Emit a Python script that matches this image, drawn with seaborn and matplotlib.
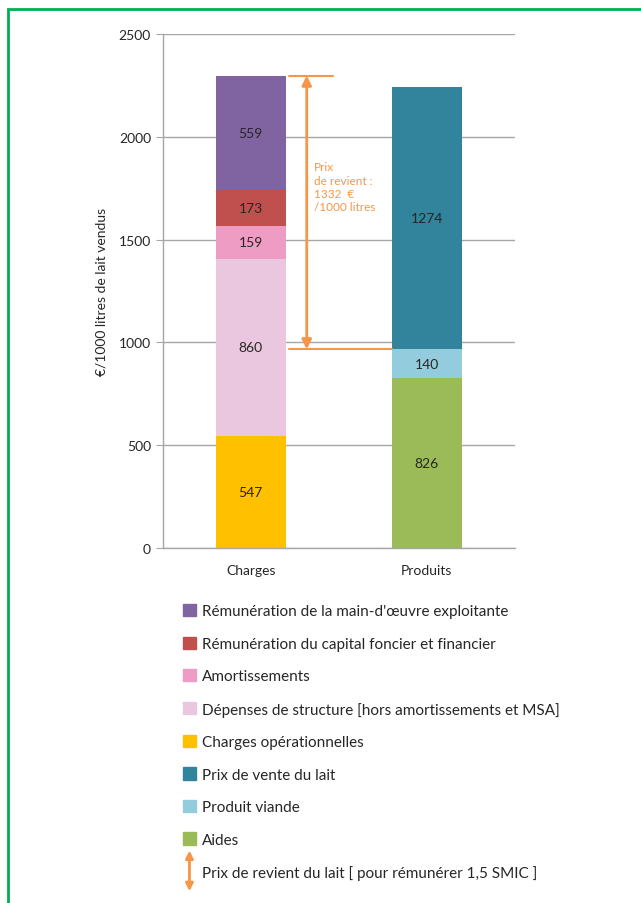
import matplotlib.pyplot as plt
import seaborn as sns
import pandas as pd
from matplotlib.patches import Patch, Rectangle, FancyArrowPatch
from matplotlib.legend_handler import HandlerBase

sns.set_style("white")
plt.rcParams['font.family'] = ['Lato', 'DejaVu Sans']

categories = ["Charges", "Produits"]

# segments from bottom to top
charges_labels = ["Charges opérationnelles",
                  "Dépenses de structure [hors amortissements et MSA]",
                  "Amortissements",
                  "Rémunération du capital foncier et financier",
                  "Rémunération de la main-d'œuvre exploitante"]
charges_values = [547, 860, 159, 173, 559]
charges_colors = ["#FFC000", "#EBC7DF", "#EE9CC4", "#C0504D", "#8064A2"]

produits_labels = ["Aides", "Produit viande", "Prix de vente du lait"]
produits_values = [826, 140, 1274]
produits_colors = ["#9BBB59", "#93CDDD", "#31849B"]

prix_revient = 1332
orange = "#F79646"

fig = plt.figure(figsize=(6.41, 9.04), dpi=100)
ax = fig.add_axes([0.254, 0.3927, 0.549, 0.5686])

def stack(cat, values, colors):
    df = pd.DataFrame({"cat": [cat] * len(values), "val": values})
    df["top"] = df["val"].cumsum()
    df["bottom"] = df["top"] - df["val"]
    # draw tallest first so lower segments overlay
    for i in range(len(df) - 1, -1, -1):
        sns.barplot(x=[cat], y=[df["top"][i]], order=categories, color=colors[i],
                    width=0.4, saturation=1, ax=ax, edgecolor="none", linewidth=0)
        ax.text(categories.index(cat), df["bottom"][i] + df["val"][i] / 2, str(df["val"][i]),
                ha="center", va="center", fontsize=10, color="#262626", zorder=5)
    return df

dc = stack("Charges", charges_values, charges_colors)
dp = stack("Produits", produits_values, produits_colors)

total_charges = dc["top"].iloc[-1]
base = total_charges - prix_revient

ax.set_xlim(-0.5, 1.5)
ax.set_ylim(0, 2500)
ax.set_yticks(range(0, 2501, 500))
ax.yaxis.grid(True, color="#A6A6A6", linewidth=1)
ax.set_axisbelow(True)
for s in ["top", "right"]:
    ax.spines[s].set_visible(False)
for s in ["left", "bottom"]:
    ax.spines[s].set_color("#A6A6A6")
    ax.spines[s].set_linewidth(1)
ax.tick_params(axis="y", left=True, length=5, color="#A6A6A6", labelsize=10, labelcolor="#262626")
ax.tick_params(axis="x", bottom=False, labelsize=10, labelcolor="#262626", pad=8)
ax.set_xlabel("")
ax.set_ylabel("€/1000 litres de lait vendus", fontsize=10, color="#262626", labelpad=8)

# price arrow
ax.plot([0.216, 0.47], [total_charges, total_charges], color=orange, lw=1.5, zorder=4)
ax.plot([0.216, 0.8], [base, base], color=orange, lw=1.5, zorder=4)
ax.annotate("", xy=(0.318, total_charges), xytext=(0.318, base),
            arrowprops=dict(arrowstyle="<|-|>", color=orange, lw=2, mutation_scale=14,
                            shrinkA=0, shrinkB=0), zorder=4)
ax.text(0.36, 1880, "Prix\nde revient :\n%d  €\n/1000 litres" % prix_revient,
        color=orange, fontsize=8.5, va="top", ha="left", linespacing=1.25)

# legend
class ArrowHandler(HandlerBase):
    def create_artists(self, legend, orig, xd, yd, width, height, fontsize, trans):
        a = FancyArrowPatch((width / 2 - xd, -height * 1.4), (width / 2 - xd, height * 2.4),
                            arrowstyle="<|-|>", mutation_scale=11, color=orange, lw=2,
                            transform=trans)
        return [a]

handles = [Patch(color=c) for c in charges_colors[::-1]] + \
          [Patch(color=c) for c in produits_colors[::-1]]
labels = charges_labels[::-1] + produits_labels[::-1]
arrow_handle = Patch(color=orange)
handles.append(arrow_handle)
labels.append("Prix de revient du lait [ pour rémunérer 1,5 SMIC ]")
fig.legend(handles, labels, loc="upper left", bbox_to_anchor=(0.264, 0.346),
           frameon=False, fontsize=11, handlelength=0.85, handleheight=0.85,
           handletextpad=0.4, labelspacing=1.19, labelcolor="#262626",
           handler_map={arrow_handle: ArrowHandler()})

# green frame
fig.patches.append(Rectangle((8 / 641, -0.02), 1.05, 1 - 10 / 904 + 0.02, transform=fig.transFigure,
                             fill=False, edgecolor="#00B050", linewidth=2))

fig.savefig("out.png", dpi=100)
